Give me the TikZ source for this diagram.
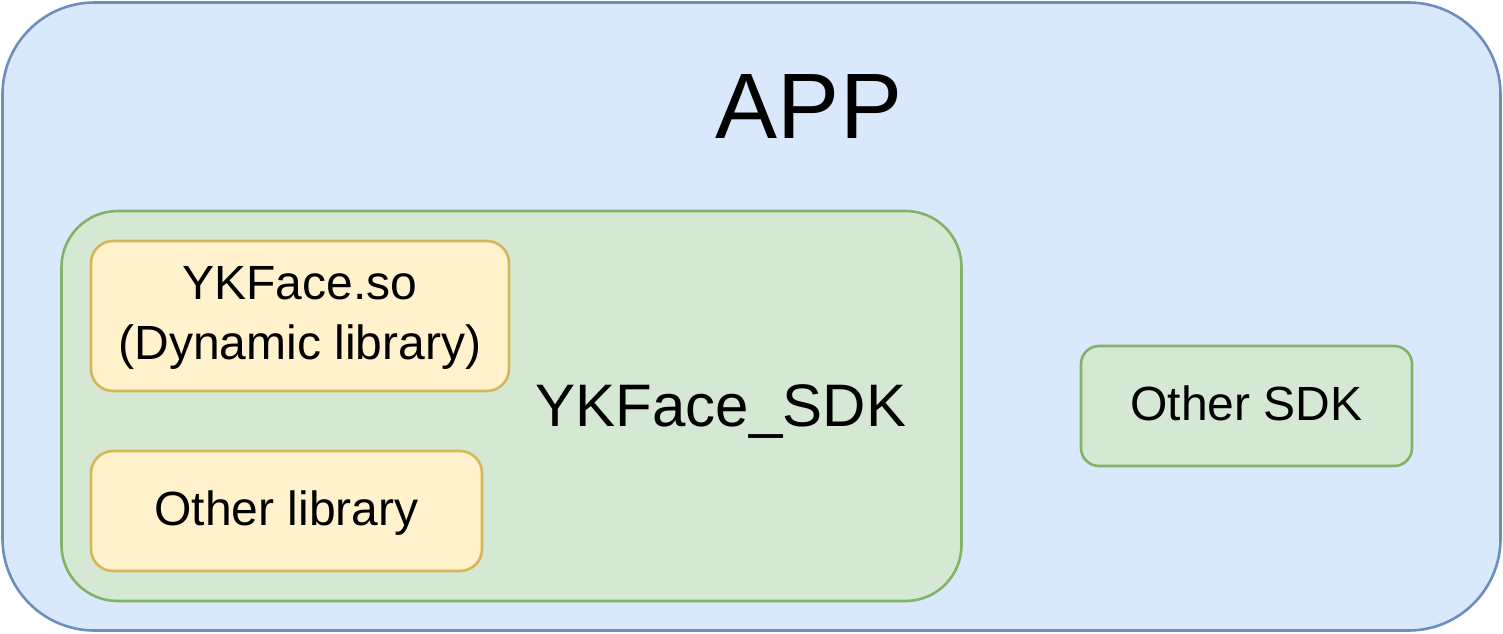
\documentclass[tikz,border=0pt]{standalone}
\usepackage{fontspec}
\setmainfont{Liberation Sans}
\definecolor{blueFill}{HTML}{DAE8FC}
\definecolor{blueLine}{HTML}{6C8EBF}
\definecolor{greenFill}{HTML}{D5E8D4}
\definecolor{greenLine}{HTML}{82B366}
\definecolor{yellowFill}{HTML}{FFF2CC}
\definecolor{yellowLine}{HTML}{D6B656}
\tikzset{
  boxshape/.style={rectangle, inner sep=0pt, line width=2.6pt},
  bluebox/.style={boxshape, fill=blueFill, draw=blueLine, rounded corners=92pt},
  greenbox/.style={boxshape, fill=greenFill, draw=greenLine},
  yellowbox/.style={boxshape, fill=yellowFill, draw=yellowLine, rounded corners=22pt},
  txt/.style={inner sep=0pt, text=black},
  mid/.style={txt, font=\fontsize{48}{60}\selectfont, align=center},
}
\begin{document}
\begin{tikzpicture}[x=1pt,y=-1pt]
\useasboundingbox (0,0) rectangle (1503,633);
% outer APP container
\node[bluebox, minimum width=1498pt, minimum height=628pt] (app) at (751.5,316.5) {};
\node[txt, anchor=base, font=\fontsize{93}{110}\selectfont] (apptxt) at (809,138) {APP};
% YKFace_SDK container
\node[greenbox, rounded corners=56pt, minimum width=900pt, minimum height=390pt] (sdk) at (511.5,406) {};
\node[txt, anchor=base, font=\fontsize{60}{72}\selectfont] (sdktxt) at (721,426) {YKFace\_SDK};
% libraries
\node[yellowbox, minimum width=418pt, minimum height=150pt] (so) at (300,316) {};
\node[mid] (sotxt) at (300,318) {YKFace.so\\(Dynamic library)};
\node[yellowbox, minimum width=391pt, minimum height=120pt] (other) at (286.5,511) {};
\node[mid, anchor=base] (othertxt) at (286.5,525) {Other library};
% other SDK
\node[greenbox, rounded corners=18pt, minimum width=331pt, minimum height=120pt] (osdk) at (1246.5,406) {};
\node[mid, anchor=base] (osdktxt) at (1246.5,420) {Other SDK};
\end{tikzpicture}
\end{document}
